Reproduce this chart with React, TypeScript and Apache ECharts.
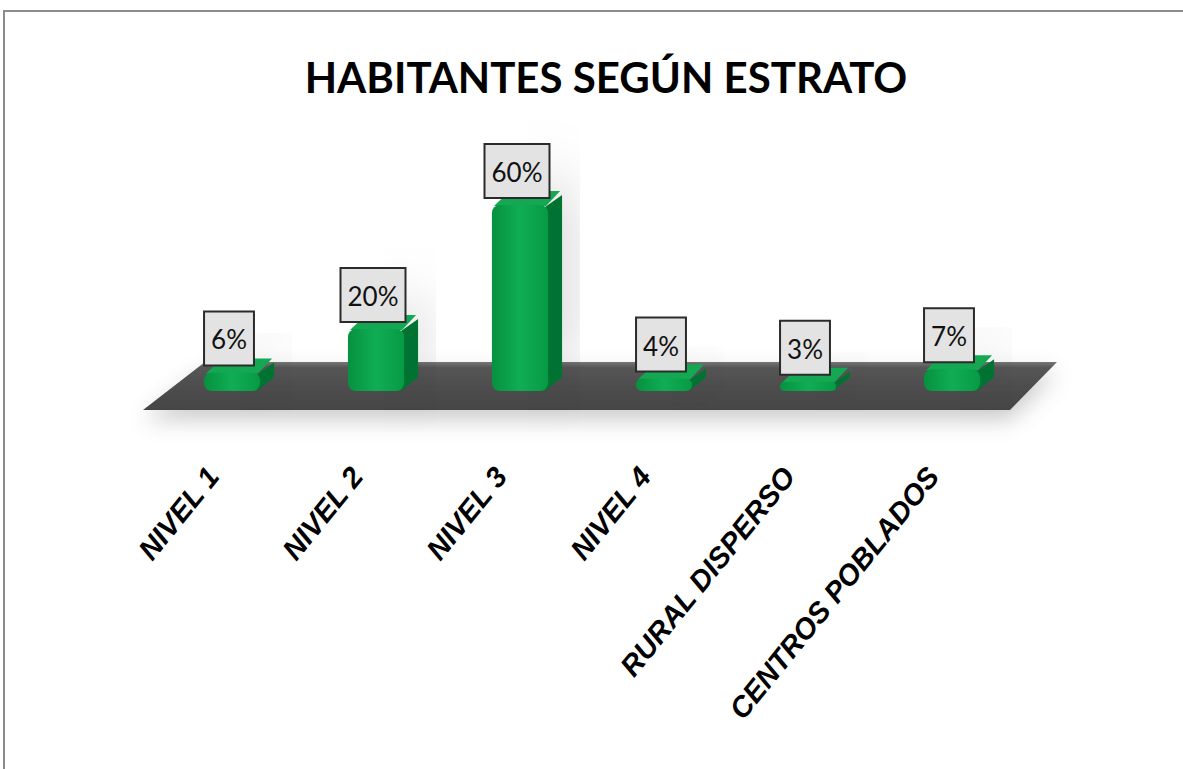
import React, { useEffect, useRef } from "react";
import * as echarts from "echarts";

const categories = ["NIVEL 1", "NIVEL 2", "NIVEL 3", "NIVEL 4", "RURAL DISPERSO", "CENTROS POBLADOS"];
const values = [6, 20, 60, 4, 3, 7];
const titleText = "HABITANTES SEGÚN ESTRATO";

export default function App() {
  const ref = useRef<HTMLDivElement>(null);
  useEffect(() => {
    if (!ref.current) return;
    const chart = echarts.init(ref.current, undefined, { renderer: "svg" });
    const option: any = {
      animation: false,
      backgroundColor: "#ffffff",
      title: {
        text: titleText,
        left: 601,
        textAlign: "center",
        top: 51,
        textStyle: { fontFamily: "Lato, sans-serif", fontWeight: "bold", fontSize: 42, color: "#000" },
      },
      graphic: [
        { type: "rect", shape: { x: 4, y: 11, width: 1400, height: 1000 }, style: { fill: "none", stroke: "#8c8c8c", lineWidth: 2 }, z: -10 },
        {
          type: "polygon",
          z: 0,
          shape: { points: [[205, 362], [1057, 362], [1010, 410], [143, 410]] },
          style: {
            fill: new echarts.graphic.LinearGradient(0, 0, 0, 1, [
              { offset: 0, color: "#767676" },
              { offset: 0.12, color: "#555555" },
              { offset: 1, color: "#454545" },
            ]),
            shadowBlur: 22,
            shadowColor: "rgba(0,0,0,0.2)",
            shadowOffsetY: 10,
          },
        },
      ],
      grid: [
        { left: 160, right: 159, top: 81, bottom: 378 },
        { left: 141, right: 178, top: 81, bottom: 308 },
      ],
      xAxis: [
        { type: "category", gridIndex: 0, data: categories, axisLine: { show: false }, axisTick: { show: false }, axisLabel: { show: false } },
        {
          type: "category",
          gridIndex: 1,
          data: categories,
          axisLine: { show: false },
          axisTick: { show: false },
          axisLabel: {
            rotate: 51,
            margin: 10,
            interval: 0,
            fontFamily: "Liberation Sans, sans-serif",
            fontWeight: "bold",
            fontStyle: "italic",
            fontSize: 29,
            color: "#000",
          },
        },
      ],
      yAxis: [
        { type: "value", gridIndex: 0, min: 0, max: 100, show: false },
        { type: "value", gridIndex: 1, min: 0, max: 1, show: false },
      ],
      series: [
        {
          type: "custom",
          xAxisIndex: 0,
          yAxisIndex: 0,
          z: 3,
          data: values.map((v, i) => [i, v]),
          renderItem: (params: any, api: any) => {
            const idx = api.value(0);
            const v = api.value(1);
            const top = api.coord([idx, v]);
            const base = api.coord([idx, 0]);
            const w = api.size([1, 0])[0] * 0.39;
            const x0 = top[0] - w / 2;
            const x1 = top[0] + w / 2;
            const yt = top[1];
            const yb = base[1];
            const dx = 14;
            const dy = -14;
            const h = yb - yt;
            const r = Math.min(8, h / 2);
            return {
              type: "group",
              children: [
                {
                  type: "polygon",
                  shape: { points: [[x1 - 3, yt + 2], [x1 + dx, yt + dy + 4], [x1 + dx, yb + dy], [x1 - 3, yb]] },
                  style: { fill: "#007331", shadowBlur: 60, shadowColor: "rgba(0,0,0,0.5)", shadowOffsetX: -10, shadowOffsetY: -16 },
                },
                {
                  type: "polygon",
                  shape: { points: [[x0 + 2, yt + 1], [x0 + dx + 4, yt + dy], [x1 + dx - 2, yt + dy], [x1 - 2, yt + 1]] },
                  style: { fill: "#15a853" },
                },
                {
                  type: "rect",
                  shape: { x: x0, y: yt, width: w, height: h, r },
                  style: {
                    fill: new echarts.graphic.LinearGradient(0, 0, 1, 0, [
                      { offset: 0, color: "#06913f" },
                      { offset: 0.5, color: "#10ad55" },
                      { offset: 1, color: "#079a45" },
                    ]),
                  },
                },
              ],
            };
          },
        },
        {
          type: "bar",
          xAxisIndex: 0,
          yAxisIndex: 0,
          z: 5,
          barWidth: 55,
          data: values,
          itemStyle: { color: "rgba(0,0,0,0)" },
          silent: true,
          label: {
            show: true,
            position: "top",
            distance: 8,
            offset: [-3, 0],
            formatter: "{c}%",
            fontFamily: "Lato, sans-serif",
            fontSize: 26,
            color: "#111",
            backgroundColor: "#e3e3e3",
            borderColor: "#2b2b2b",
            borderWidth: 2,
            padding: [14, 6, 12, 6],
          },
        },
      ],
    };
    chart.setOption(option);
    return () => chart.dispose();
  }, []);
  return <div ref={ref} style={{ position: "absolute", left: 0, top: 0, width: 1183, height: 769 }} />;
}
